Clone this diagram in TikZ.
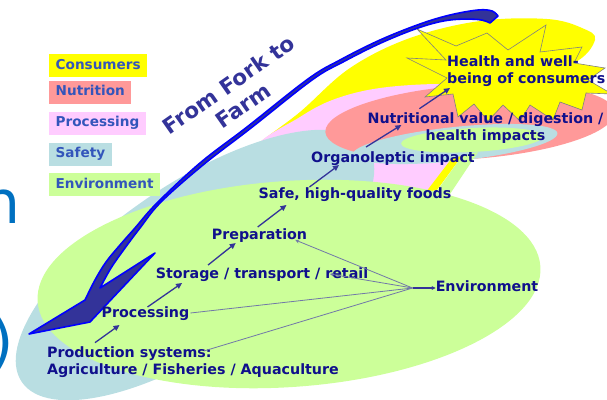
\documentclass[tikz,border=0pt]{standalone}
\usepackage{fontspec}
\setmainfont{DejaVu Sans}
\usetikzlibrary{arrows.meta,calc}
\definecolor{cyel}{HTML}{FFFF00}
\definecolor{cred}{HTML}{FF9999}
\definecolor{cpink}{HTML}{FFCCFF}
\definecolor{cblue}{HTML}{B9DEE2}
\definecolor{cgreen}{HTML}{CCFF99}
\definecolor{navy}{HTML}{10108C}
\definecolor{slate}{HTML}{333399}
\definecolor{legtxt}{HTML}{3355BB}
\definecolor{brightblue}{HTML}{0000FF}
\definecolor{envcol}{HTML}{7178A8}
\definecolor{slideblue}{HTML}{0070C0}
\tikzset{
  lbl/.style={font=\bfseries\fontsize{14.25}{17}\selectfont, text=navy, inner sep=0pt},
  leg/.style={font=\bfseries\fontsize{13.6}{17}\selectfont, text=legtxt, anchor=west,
    minimum height=23pt, inner xsep=6.5pt, inner ysep=0pt, text height=10pt, text depth=3pt},
  sarrow/.style={draw=slate, line width=1.3pt, -{Triangle[length=6pt,width=5.5pt]}},
  envline/.style={draw=envcol, line width=0.8pt},
  envtip/.style={envline, -{Stealth[length=4pt,width=4pt]}},
  frag/.style={font=\fontsize{60}{60}\selectfont, text=slideblue, inner sep=0pt},
}
\begin{document}
\begin{tikzpicture}[x=1pt,y=-1pt]
\useasboundingbox (0,0) rectangle (607,399);
\clip (0,0) rectangle (607,399);
% slide fragments at the left edge
\node[frag, anchor=base east] (frag1) at (21,223) {n};
\node[frag, anchor=base west] (frag2) at (-10,362) {)};
% background regions
\fill[cyel] plot[smooth cycle, tension=0.6] coordinates {(252,150) (300,112) (350,68) (410,38) (480,21) (547,19) (582,28) (595,40) (570,65) (490,88) (400,100) (320,132) (268,158)};
\fill[cpink] plot[smooth cycle, tension=0.6] coordinates {(255,150) (300,117) (335,99) (380,88) (440,84) (480,88) (500,105) (470,140) (452,160) (440,178) (420,195) (360,200) (290,185)};
\fill[cblue, rotate around={34:(195,265)}] (195,265) ellipse [x radius=209, y radius=82];
\fill[cred, rotate around={4:(470,122)}] (470,122) ellipse [x radius=145, y radius=37];
\fill[cblue, rotate around={6:(455,144)}] (455,144) ellipse [x radius=103, y radius=17];
\fill[cgreen, rotate around={3:(472,140)}] (472,140) ellipse [x radius=71, y radius=12];
\fill[cyel] (426,192) -- (452,158) -- (462,156) -- (437,190) -- cycle;
\fill[cgreen] (434,195) -- (462,156) -- (478,152) -- (446,200) -- cycle;
\fill[cgreen, rotate around={4:(289,284)}] (289,284) ellipse [x radius=252, y radius=103];
% star
\filldraw[fill=cyel, draw=gray, line width=0.6pt, line join=miter]
  (417,29) -- (456,46) -- (487,33) -- (508,50) -- (546,25) -- (540,52) -- (582,47) -- (574,63)
  -- (605,68) -- (588,80) -- (612,94) -- (586,93) -- (582,110) -- (560,102) -- (553,120)
  -- (530,105) -- (520,121) -- (503,105) -- (488,121) -- (474,104) -- (458,117) -- (453,94)
  -- (425,97) -- (447,78) -- (407,58) -- (446,60) -- cycle;
% legend
\node[leg, fill=cyel] (lcons) at (49,65.5) {Consumers};
\node[leg, fill=cred] (lnutr) at (49,92) {Nutrition};
\node[leg, fill=cpink] (lproc) at (49,123) {Processing};
\node[leg, fill=cblue] (lsafe) at (49,154) {Safety};
\node[leg, fill=cgreen] (lenv) at (49,184.5) {Environment};
% big arrow
\filldraw[fill=slate, draw=brightblue, line width=1.6pt, line join=round]
  (29,334) -- plot[smooth, tension=0.6] coordinates {(85,300) (95,280) (106,262) (120,245) (135,228) (157,203) (200,163) (247,127) (308,79) (340,60) (380,40) (420,24) (450,15) (478,10) (492,11) (498,16)}
  -- plot[smooth, tension=0.6] coordinates {(490,23) (478,19.5) (450,20) (421,27) (382,42.5) (343,62) (312,80) (251,128) (203,165) (161,202) (140,228) (125,248) (111,268) (100,288)}
  -- (155,253) -- (90,322) -- cycle;
\node[font=\bfseries\fontsize{21.5}{25.5}\selectfont, text=slate, align=center, rotate=35, inner sep=0pt] (fork) at (236,95) {From Fork to\\Farm};
% labels
\node[lbl, anchor=base] (env) at (487,291) {Environment};
\node[lbl, anchor=base] (prep) at (259.5,239) {Preparation};
\node[lbl, anchor=base] (stor) at (262,278) {Storage / transport / retail};
\node[lbl, anchor=base] (proc) at (145.5,317) {Processing};
\node[lbl, anchor=base] (safe) at (355,198) {Safe, high-quality foods};
\node[lbl, anchor=base] (orga) at (393,162) {Organoleptic impact};
\node[lbl, align=center] (nutr) at (485.5,128) {Nutritional value / digestion /\\health impacts};
\node[lbl, align=left, anchor=west] (hlth) at (447,71) {Health and well-\\being of consumers};
\node[lbl, align=left, anchor=west] (prodn) at (47,362) {Production systems:\\Agriculture / Fisheries / Aquaculture};
% chain arrows
\draw[sarrow] ($(prodn.north west)+(48,-3.7)$) -- ($(proc.base west)+(18,8)$);
\draw[sarrow] ($(proc.base west)+(46,-10)$) -- ($(stor.base west)+(26.5,5)$);
\draw[sarrow] ($(stor.base west)+(52.5,-13)$) -- ($(prep.base west)+(24,4)$);
\draw[sarrow] ($(prep.base west)+(46,-12)$) -- ($(safe.base west)+(28,7)$);
\draw[sarrow] ($(safe.base west)+(51,-11)$) -- ($(orga.base west)+(28,3)$);
\draw[sarrow] ($(orga.base west)+(55,-15)$) -- ($(nutr.west)+(34,-3)$);
\draw[sarrow] ($(nutr.north west)+(52,-3.7)$) -- ($(hlth.west)+(3,17)$);
% environment links
\coordinate (J) at ($(env.base west)+(-23,-3)$);
\draw[draw=slate, line width=1.3pt, -{Stealth[length=4pt,width=4pt]}] (J) -- ($(env.base west)+(0,-3)$);
\draw[envtip] (J) -- ($(prep.base east)+(-12,1)$);
\draw[envtip] (J) -- ($(stor.base east)+(-38.5,-4)$);
\draw[envline] (J) -- ($(proc.base east)+(1,-4)$);
\draw[envline] (J) -- ($(prodn.north west)+(158,4.3)$);
\end{tikzpicture}
\end{document}
